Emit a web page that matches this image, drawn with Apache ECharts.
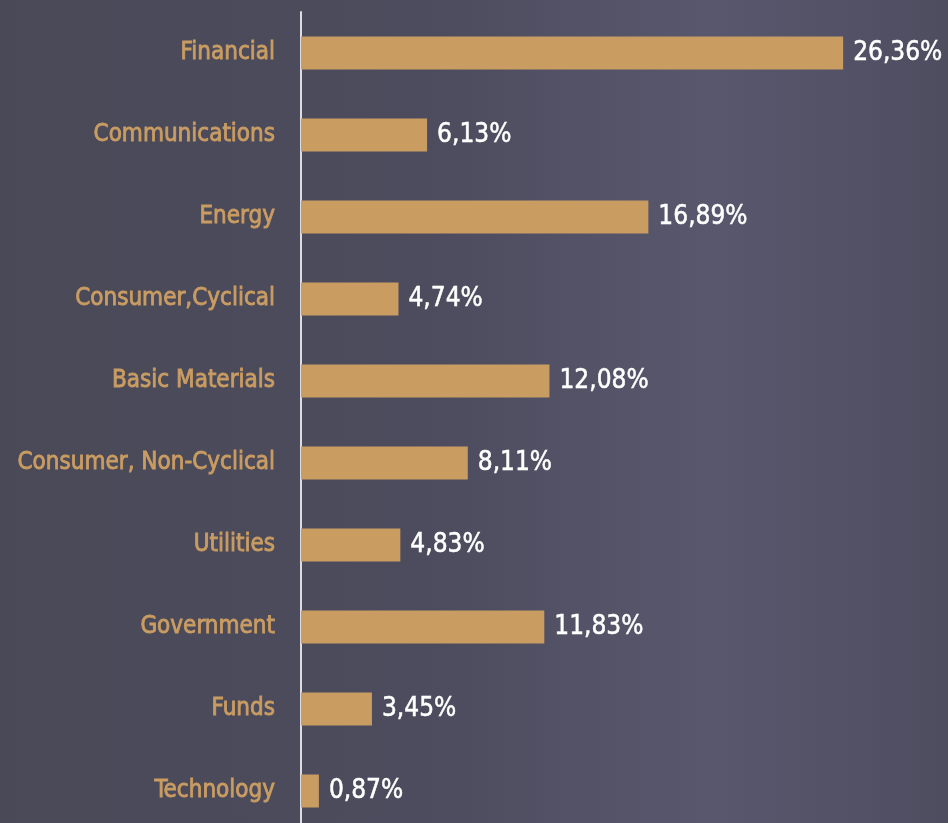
<!DOCTYPE html>
<html>
<head>
<meta charset="utf-8">
<script src="https://cdn.jsdelivr.net/npm/echarts@6/dist/echarts.min.js"></script>
<style>
  html, body { margin: 0; padding: 0; background: #4b4a5a; }
  #chart { width: 948px; height: 823px; }
</style>
</head>
<body>
<div id="chart"></div>
<script>
  // sectors, top to bottom
  var sectors = ['Financial', 'Communications', 'Energy', 'Consumer,Cyclical', 'Basic Materials',
    'Consumer, Non-Cyclical', 'Utilities', 'Government', 'Funds', 'Technology'];
  var weights = [26.36, 6.13, 16.89, 4.74, 12.08, 8.11, 4.83, 11.83, 3.45, 0.87];

  var font = '"DejaVu Sans Condensed", "Liberation Sans Narrow", sans-serif';
  var chart = echarts.init(document.getElementById('chart'));
  var option = {
    backgroundColor: {
      type: 'linear', x: 0, y: 0, x2: 1, y2: 0,
      colorStops: [
        { offset: 0, color: '#4a4957' },
        { offset: 0.45, color: '#4d4c5e' },
        { offset: 0.75, color: '#58576d' },
        { offset: 1, color: '#4e4d60' }
      ]
    },
    grid: { left: 301, top: 12, height: 820, width: 617, outerBoundsMode: 'none', containLabel: false },
    xAxis: {
      type: 'value',
      min: 0,
      max: 30,
      show: false
    },
    yAxis: {
      type: 'category',
      inverse: true,
      data: sectors,
      axisLine: { show: true, lineStyle: { color: '#dcdce2', width: 2 } },
      axisTick: { show: false },
      axisLabel: {
        margin: 26,
        color: '#c99c62',
        fontFamily: font,
        fontSize: 24,
        padding: [5, 0, 0, 0],
        textBorderColor: '#c99c62',
        textBorderWidth: 0.8
      }
    },
    series: [{
      type: 'bar',
      data: weights,
      barWidth: 33,
      itemStyle: { color: '#c99c62' },
      label: {
        show: true,
        position: 'right',
        distance: 10,
        color: '#ffffff',
        fontFamily: font,
        fontSize: 26,
        padding: [5, 0, 0, 0],
        textBorderColor: '#ffffff',
        textBorderWidth: 0.5,
        formatter: function (p) {
          return p.value.toFixed(2).replace('.', ',') + '%';
        }
      }
    }]
  };
  chart.setOption(option, true);
</script>
</body>
</html>
